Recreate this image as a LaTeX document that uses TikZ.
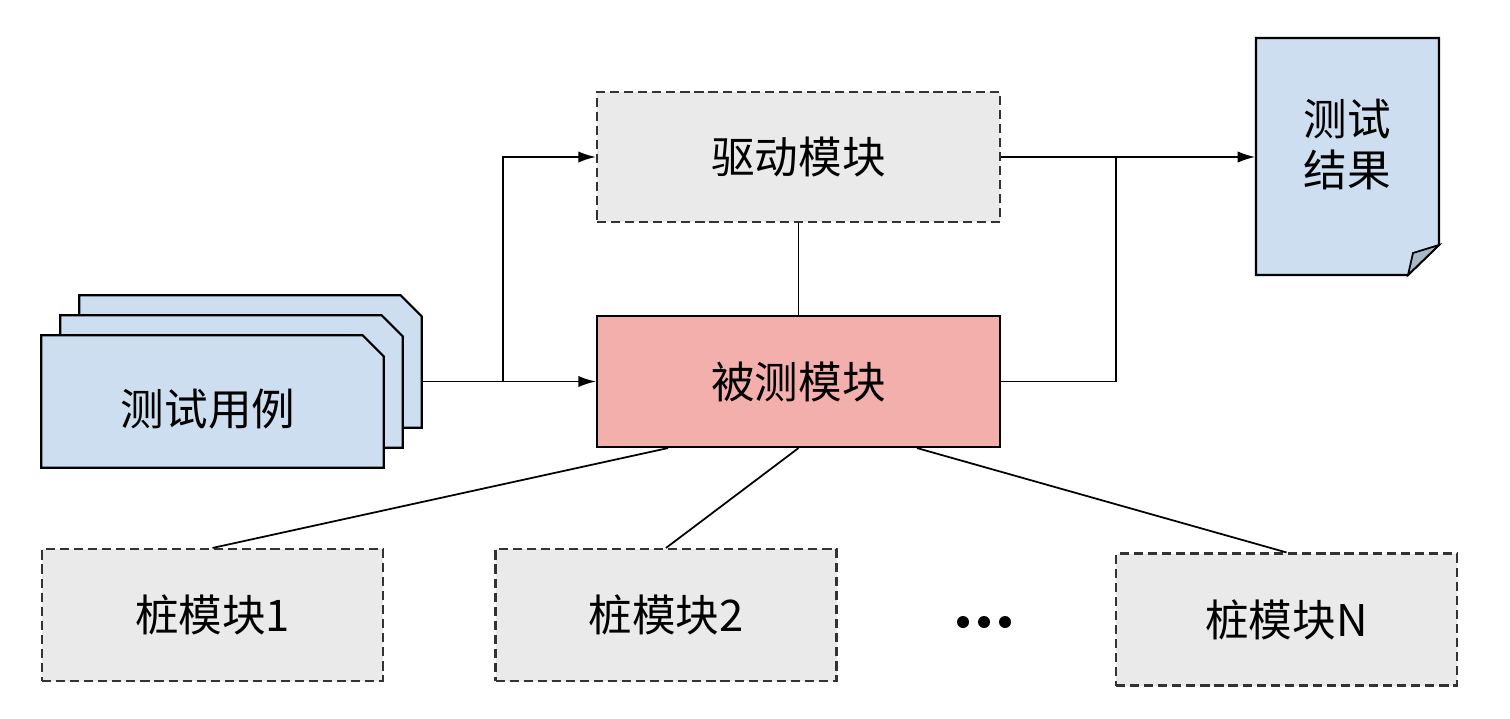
\documentclass[tikz,border=0pt]{standalone}
\usepackage{fontspec}
\newfontfamily\cjk{Noto Sans CJK SC}
\usetikzlibrary{arrows.meta}
\definecolor{cardblue}{HTML}{CCDEF0}
\definecolor{dutred}{HTML}{F3AFAB}
\definecolor{stubgray}{HTML}{EAEAEA}
\definecolor{foldblue}{HTML}{A9B8C9}
\definecolor{edgegray}{HTML}{333333}
\tikzset{
  every node/.style={font=\cjk\fontsize{12.4}{14.5}\selectfont, inner sep=0pt},
  conn/.style={line width=0.5pt},
  arrow/.style={conn, -{Latex[length=5pt,width=3.2pt]}},
  module/.style={draw=edgegray, fill=stubgray, line width=0.6pt, dash pattern=on 2.6pt off 1.4pt, minimum width=4.03cm, minimum height=1.30cm},
  dutbox/.style={draw=black, fill=dutred, line width=0.6pt, minimum width=4.03cm, minimum height=1.31cm},
  stub/.style={module, minimum width=3.41cm, minimum height=1.32cm},
  cardarea/.style={minimum width=3.41cm, minimum height=1.31cm},
  cardline/.style={draw=black, fill=cardblue, line width=0.6pt}
}
\begin{document}
\begin{tikzpicture}
\useasboundingbox (0,0) rectangle (15.1,7.18);
\node[module] (drv) at (7.985,5.61) {驱动模块};
\node[dutbox] (dut) at (7.985,3.365) {被测模块};
\foreach \n/\x/\y in {cases3/2.505/3.565, cases2/2.315/3.365, cases/2.125/3.165} {
  \node[cardarea] (\n) at (\x,\y) {};
  \filldraw[cardline] (\n.north west) -- ([xshift=-0.21cm]\n.north east) -- ([yshift=-0.21cm]\n.north east) -- (\n.south east) -- (\n.south west) -- cycle;
}
\node at (2.08,3.09) {测试用例};
\node[stub] (stub1) at (2.125,1.03) {桩模块1};
\node[stub] (stub2) at (6.66,1.03) {桩模块2};
\node[stub] (stubN) at (12.865,0.985) {桩模块N};
\foreach \x in {9.63,9.84,10.05}
  \fill (\x,0.96) circle (0.06);
\filldraw[fill=cardblue, line width=0.6pt] (12.56,6.80) -- (14.39,6.80) -- (14.39,4.73) -- (14.08,4.43) -- (12.56,4.43) -- cycle;
\filldraw[fill=foldblue, line width=0.5pt] (14.39,4.73) -- (14.13,4.65) -- (14.08,4.43) -- cycle;
\node[minimum width=1.83cm, align=center] (res) at (13.475,5.73) {测试\\结果};
\coordinate (split) at (5.03,3.365);
\coordinate (merge) at (11.16,5.61);
\draw[arrow] (cases3.east |- dut.west) -- (dut.west);
\draw[arrow] (split) |- (drv.west);
\draw[arrow] (drv.east) -- (drv.east -| res.west);
\draw[conn] (dut.east) -| (merge);
\draw[conn] (drv.south) -- (dut.north);
\draw[conn] ([xshift=-1.305cm]dut.south) -- (stub1.north);
\draw[conn] (dut.south) -- (stub2.north);
\draw[conn] ([xshift=1.185cm]dut.south) -- (stubN.north);
\end{tikzpicture}
\end{document}
